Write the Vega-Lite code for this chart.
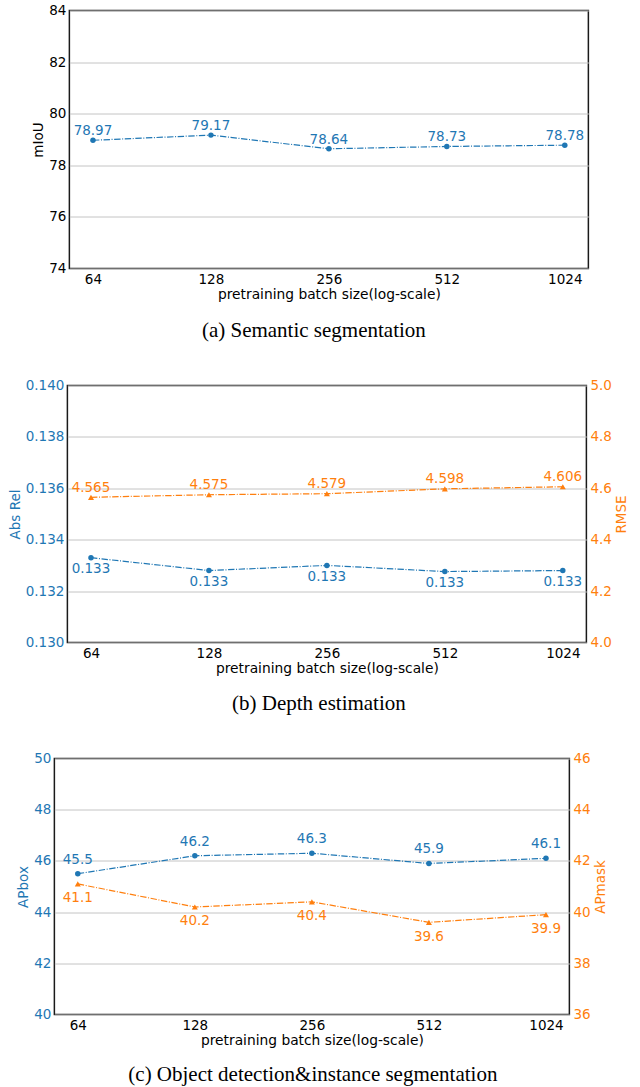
{
  "$schema": "https://vega.github.io/schema/vega-lite/v6.json",
  "padding": {"left": 7, "top": 2.5, "right": -3, "bottom": 0},
  "center": true,
  "spacing": 35,
  "datasets": {
    "seg": [
      {"batch": 64, "miou": 78.97},
      {"batch": 128, "miou": 79.17},
      {"batch": 256, "miou": 78.64},
      {"batch": 512, "miou": 78.73},
      {"batch": 1024, "miou": 78.78}
    ],
    "depth": [
      {"batch": 64, "absrel": 0.1333, "rmse": 4.565},
      {"batch": 128, "absrel": 0.1328, "rmse": 4.575},
      {"batch": 256, "absrel": 0.1330, "rmse": 4.579},
      {"batch": 512, "absrel": 0.13276, "rmse": 4.598},
      {"batch": 1024, "absrel": 0.1328, "rmse": 4.606}
    ],
    "det": [
      {"batch": 64, "apbox": 45.5, "apmask": 41.1},
      {"batch": 128, "apbox": 46.2, "apmask": 40.2},
      {"batch": 256, "apbox": 46.3, "apmask": 40.4},
      {"batch": 512, "apbox": 45.9, "apmask": 39.6},
      {"batch": 1024, "apbox": 46.1, "apmask": 39.9}
    ]
  },
  "vconcat": [
    {
      "width": 519,
      "height": 258,
      "title": {"text": "(a) Semantic segmentation", "dx": -15, "offset": 19},
      "data": {"name": "seg"},
      "encoding": {
        "x": {"field": "batch", "type": "quantitative",
              "scale": {"type": "log", "base": 2, "domain": [55.715, 1176.27], "nice": false},
              "axis": {"values": [64, 128, 256, 512, 1024], "format": "d", "title": "pretraining batch size(log-scale)"}}
      },
      "layer": [
        {
          "encoding": {
            "y": {"field": "miou", "type": "quantitative",
                  "scale": {"domain": [74, 84], "nice": false, "zero": false},
                  "axis": {"orient": "left", "values": [74, 76, 78, 80, 82, 84], "title": "mIoU", "grid": true}}
          },
          "layer": [
            {"mark": {"type": "line", "color": "#1f77b4", "strokeWidth": 1.2, "strokeDash": [6.4, 1.6, 1, 1.6]}},
            {"mark": {"type": "point", "shape": "circle", "filled": true, "size": 30, "color": "#1f77b4", "opacity": 1}}
          ]
        },
        {
          "mark": {"type": "text", "baseline": "alphabetic", "dy": -5, "fontSize": 13.5, "font": "DejaVu Sans", "color": "#1f77b4"},
          "encoding": {
            "y": {"field": "miou", "type": "quantitative",
                  "scale": {"domain": [74, 84], "nice": false, "zero": false},
                  "axis": {"orient": "right", "values": [74, 84], "labels": false, "title": null, "grid": false, "domain": false, "ticks": true, "tickSize": 37, "tickColor": "transparent"}},
            "text": {"field": "miou", "type": "quantitative", "format": ".2f"}
          }
        }
      ],
      "resolve": {"scale": {"y": "independent"}}
    },
    {
      "width": 519,
      "height": 257,
      "title": {"text": "(b) Depth estimation", "dx": -8, "offset": 18},
      "data": {"name": "depth"},
      "encoding": {
        "x": {"field": "batch", "type": "quantitative",
              "scale": {"type": "log", "base": 2, "domain": [55.715, 1176.27], "nice": false},
              "axis": {"values": [64, 128, 256, 512, 1024], "format": "d", "title": "pretraining batch size(log-scale)"}}
      },
      "layer": [
        {
          "encoding": {
            "y": {"field": "absrel", "type": "quantitative",
                  "scale": {"domain": [0.13, 0.14], "nice": false, "zero": false},
                  "axis": {"orient": "left", "values": [0.13, 0.132, 0.134, 0.136, 0.138, 0.14], "format": ".3f", "title": "Abs Rel", "grid": true, "labelColor": "#1f77b4", "titleColor": "#1f77b4"}}
          },
          "layer": [
            {"mark": {"type": "line", "color": "#1f77b4", "strokeWidth": 1.2, "strokeDash": [6.4, 1.6, 1, 1.6]}},
            {"mark": {"type": "point", "shape": "circle", "filled": true, "size": 30, "color": "#1f77b4", "opacity": 1}},
            {"mark": {"type": "text", "baseline": "alphabetic", "dy": 15.5, "fontSize": 13.5, "font": "DejaVu Sans", "color": "#1f77b4"},
             "encoding": {"text": {"field": "absrel", "type": "quantitative", "format": ".3f"}}}
          ]
        },
        {
          "encoding": {
            "y": {"field": "rmse", "type": "quantitative",
                  "scale": {"domain": [4.0, 5.0], "nice": false, "zero": false},
                  "axis": {"orient": "right", "values": [4.0, 4.2, 4.4, 4.6, 4.8, 5.0], "format": ".1f", "title": "RMSE", "titleAngle": 270, "titleBaseline": "top", "grid": false, "labelColor": "#ff7f0e", "titleColor": "#ff7f0e"}}
          },
          "layer": [
            {"mark": {"type": "line", "color": "#ff7f0e", "strokeWidth": 1.2, "strokeDash": [6.4, 1.6, 1, 1.6]}},
            {"mark": {"type": "point", "shape": "triangle-up", "filled": true, "size": 36, "color": "#ff7f0e", "opacity": 1}},
            {"mark": {"type": "text", "baseline": "alphabetic", "dy": -5.5, "fontSize": 13.5, "font": "DejaVu Sans", "color": "#ff7f0e"},
             "encoding": {"text": {"field": "rmse", "type": "quantitative", "format": ".3f"}}}
          ]
        }
      ],
      "resolve": {"scale": {"y": "independent"}}
    },
    {
      "width": 515,
      "height": 256,
      "title": {"text": "(c) Object detection&instance segmentation", "dx": 1, "offset": 17},
      "data": {"name": "det"},
      "encoding": {
        "x": {"field": "batch", "type": "quantitative",
              "scale": {"type": "log", "base": 2, "domain": [55.715, 1176.27], "nice": false},
              "axis": {"values": [64, 128, 256, 512, 1024], "format": "d", "title": "pretraining batch size(log-scale)"}}
      },
      "layer": [
        {
          "encoding": {
            "y": {"field": "apbox", "type": "quantitative",
                  "scale": {"domain": [40, 50], "nice": false, "zero": false},
                  "axis": {"orient": "left", "values": [40, 42, 44, 46, 48, 50], "title": "APbox", "grid": true, "labelColor": "#1f77b4", "titleColor": "#1f77b4"}}
          },
          "layer": [
            {"mark": {"type": "line", "color": "#1f77b4", "strokeWidth": 1.2, "strokeDash": [6.4, 1.6, 1, 1.6]}},
            {"mark": {"type": "point", "shape": "circle", "filled": true, "size": 30, "color": "#1f77b4", "opacity": 1}},
            {"mark": {"type": "text", "baseline": "alphabetic", "dy": -10, "fontSize": 13.5, "font": "DejaVu Sans", "color": "#1f77b4"},
             "encoding": {"text": {"field": "apbox", "type": "quantitative", "format": ".1f"}}}
          ]
        },
        {
          "encoding": {
            "y": {"field": "apmask", "type": "quantitative",
                  "scale": {"domain": [36, 46], "nice": false, "zero": false},
                  "axis": {"orient": "right", "values": [36, 38, 40, 42, 44, 46], "title": "APmask", "titleAngle": 270, "titleBaseline": "top", "grid": false, "labelColor": "#ff7f0e", "titleColor": "#ff7f0e"}}
          },
          "layer": [
            {"mark": {"type": "line", "color": "#ff7f0e", "strokeWidth": 1.2, "strokeDash": [6.4, 1.6, 1, 1.6]}},
            {"mark": {"type": "point", "shape": "triangle-up", "filled": true, "size": 36, "color": "#ff7f0e", "opacity": 1}}
          ]
        },
        {
          "mark": {"type": "text", "baseline": "alphabetic", "dy": 18.5, "fontSize": 13.5, "font": "DejaVu Sans", "color": "#ff7f0e"},
          "encoding": {
            "y": {"field": "apmask", "type": "quantitative",
                  "scale": {"domain": [36, 46], "nice": false, "zero": false},
                  "axis": {"orient": "right", "values": [36, 46], "labels": false, "title": null, "grid": false, "domain": false, "ticks": true, "tickSize": 71, "tickColor": "transparent"}},
            "text": {"field": "apmask", "type": "quantitative", "format": ".1f"}
          }
        }
      ],
      "resolve": {"scale": {"y": "independent"}}
    }
  ],
  "config": {
    "view": {"stroke": "#1a1a1a", "strokeWidth": 1.5},
    "axis": {
      "labelFont": "DejaVu Sans", "labelFontSize": 13.5, "labelColor": "black",
      "titleFont": "DejaVu Sans", "titleFontSize": 13.5, "titleFontWeight": "normal", "titleColor": "black",
      "domain": false, "ticks": false, "labelPadding": 3.5, "titlePadding": 3,
      "gridColor": "#c4c4c4", "gridWidth": 1, "labelFlush": false, "labelOverlap": false
    },
    "axisX": {"grid": false, "titlePadding": 2, "titleFontSize": 13.8},
    "title": {"font": "Liberation Serif", "fontSize": 21, "fontWeight": "normal", "color": "black", "orient": "bottom", "anchor": "middle", "frame": "group"}
  }
}
